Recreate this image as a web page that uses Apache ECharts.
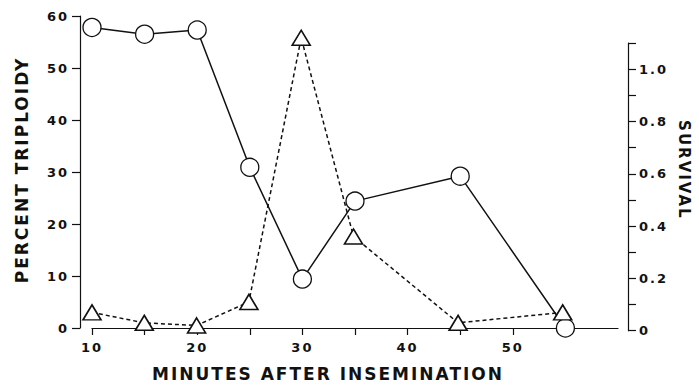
<!DOCTYPE html>
<html>
<head>
<meta charset="utf-8">
<script src="https://cdn.jsdelivr.net/npm/echarts@6/dist/echarts.min.js"></script>
<style>
  body { margin: 0; background: #fff; }
  #main { width: 699px; height: 387px; }
  #main text { letter-spacing: 2px; }
</style>
</head>
<body>
<div id="main"></div>
<script>
// minutes after insemination
var minutes = [10, 15, 20, 25, 30, 35, 45, 55];
// circles, solid line, left axis
var triploidy = [57.8, 56.5, 57.3, 30.9, 9.4, 24.4, 29.2, 0];
// triangles, dashed line, right axis
var survival = [0.07, 0.03, 0.02, 0.11, 1.12, 0.36, 0.03, 0.07];

var xTicks = [10, 15, 20, 25, 30, 35, 40, 45, 50, 55];
var xLabels = [10, 20, 30, 40, 50];
var survivalLabels = [0, 0.2, 0.4, 0.6, 0.8, 1.0];

var ink = '#111';
var font = 'DejaVu Sans';

function pairs(xs, ys) {
    var out = [];
    for (var i = 0; i < xs.length; i++) {
        out.push([xs[i], ys[i]]);
    }
    return out;
}

var chart = echarts.init(document.getElementById('main'), null, { renderer: 'svg' });

var labelStyle = { color: ink, fontFamily: font, fontSize: 13, fontWeight: 'bold', margin: 11 };

var option = {
    animation: false,
    backgroundColor: '#fff',
    grid: [
        { left: 92, right: 81, top: 16, bottom: 57.5 },
        { left: 92, right: 81, top: 43, bottom: 56.3 }
    ],
    xAxis: [
        {
            type: 'value',
            gridIndex: 0,
            min: 10,
            max: 60,
            interval: 5,
            name: 'MINUTES AFTER INSEMINATION',
            nameLocation: 'middle',
            nameGap: 37,
            nameTextStyle: { color: ink, fontFamily: font, fontSize: 17, fontWeight: 'bold', padding: [0, 54, 0, 0] },
            axisLine: { lineStyle: { color: ink, width: 1.2 } },
            axisTick: { length: 7, lineStyle: { color: ink, width: 1.2 }, customValues: xTicks },
            axisLabel: Object.assign({}, labelStyle, { customValues: xLabels, margin: 13 }),
            splitLine: { show: false }
        },
        {
            type: 'value',
            gridIndex: 1,
            min: 10,
            max: 60,
            show: false
        }
    ],
    yAxis: [
        {
            type: 'value',
            gridIndex: 0,
            position: 'left',
            offset: 12,
            min: 0,
            max: 60,
            interval: 10,
            name: 'PERCENT TRIPLOIDY',
            nameLocation: 'middle',
            nameGap: 50,
            nameTextStyle: { color: ink, fontFamily: font, fontSize: 17, fontWeight: 'bold', padding: [0, 0, 0, 4] },
            axisLine: { show: true, lineStyle: { color: ink, width: 1.2 } },
            axisTick: { show: true, length: 8, lineStyle: { color: ink, width: 1.2 } },
            axisLabel: labelStyle,
            splitLine: { show: false }
        },
        {
            type: 'value',
            gridIndex: 1,
            position: 'right',
            offset: 13,
            min: 0,
            max: 1.1,
            interval: 0.1,
            name: 'SURVIVAL',
            nameLocation: 'middle',
            nameRotate: -90,
            nameGap: 48,
            nameTextStyle: { color: ink, fontFamily: font, fontSize: 15, fontWeight: 'bold', padding: [0, 34, 0, 0] },
            axisLine: { show: true, lineStyle: { color: ink, width: 1.2 } },
            axisTick: { show: true, length: 8, lineStyle: { color: ink, width: 1.2 } },
            axisLabel: Object.assign({}, labelStyle, {
                customValues: survivalLabels,
                formatter: function (v) { return v === 0 ? '0' : v.toFixed(1); }
            }),
            splitLine: { show: false }
        }
    ],
    series: [
        {
            name: 'PERCENT TRIPLOIDY',
            type: 'line',
            xAxisIndex: 0,
            yAxisIndex: 0,
            data: pairs(minutes, triploidy),
            clip: false,
            symbol: 'circle',
            symbolSize: 18,
            lineStyle: { color: ink, width: 1.5 },
            itemStyle: { color: '#fff', borderColor: ink, borderWidth: 1.3 }
        },
        {
            name: 'SURVIVAL',
            type: 'line',
            xAxisIndex: 1,
            yAxisIndex: 1,
            data: pairs(minutes, survival),
            clip: false,
            symbol: 'triangle',
            symbolSize: [18, 15],
            lineStyle: { color: ink, width: 1.5, type: [4, 3] },
            itemStyle: { color: '#fff', borderColor: ink, borderWidth: 1.6 }
        }
    ]
};

chart.setOption(option);
</script>
</body>
</html>
